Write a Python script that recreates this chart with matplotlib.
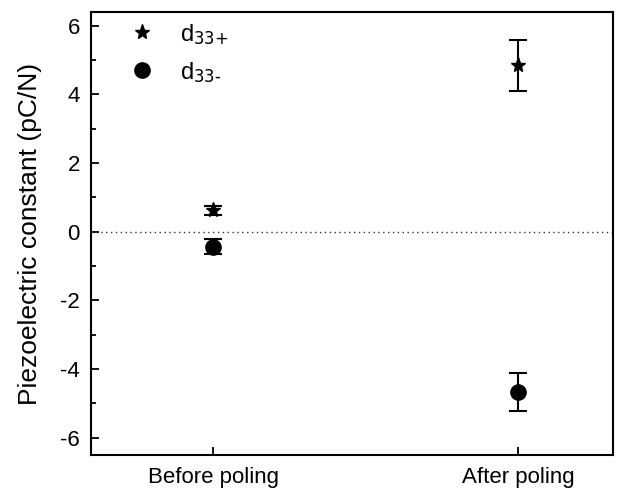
import matplotlib
matplotlib.use("Agg")
import matplotlib.pyplot as plt
import numpy as np

plt.rcParams.update({"font.family": ["Liberation Sans", "DejaVu Sans"],
                     "font.size": 16, "mathtext.default": "regular",
                     "axes.unicode_minus": False})

STATES = ["Before poling", "After poling"]
D33_PLUS = [0.62, 4.85]
D33_PLUS_ERR = [0.14, 0.74]
D33_MINUS = [-0.43, -4.67]
D33_MINUS_ERR = [0.22, 0.55]

x = np.arange(1, len(STATES) + 1)

fig = plt.figure(figsize=(6.3, 4.92), dpi=100)
ax = fig.add_axes([91 / 630, 37 / 492, 522 / 630, 443 / 492])

ax.axhline(0, ls=(0, (1, 2.5)), color="#333333", lw=1)
ax.errorbar(x, D33_PLUS, yerr=D33_PLUS_ERR, fmt="*", ms=11, color="black",
            ecolor="black", elinewidth=1.5, capsize=6.5, capthick=1.5,
            label=r"d$_{\text{33+}}$")
ax.errorbar(x, D33_MINUS, yerr=D33_MINUS_ERR, fmt="o", ms=11, color="black",
            ecolor="black", elinewidth=1.5, capsize=6.5, capthick=1.5,
            label=r"d$_{\text{33-}}$")

ax.set_xlim(0.6, 2.31)
ax.set_ylim(-6.5, 6.4)
ax.set_xticks(x)
ax.set_xticklabels(STATES)
ax.set_yticks(range(-6, 7, 2))
ax.set_yticks(range(-5, 7, 2), minor=True)
ax.tick_params(direction="in", length=6, width=1.3, labelsize=16)
ax.tick_params(which="minor", direction="in", length=3.5, width=1.3)
ax.tick_params(axis="x", pad=9)
ax.tick_params(axis="y", pad=8)
for s in ax.spines.values():
    s.set_linewidth(1.5)
ax.set_ylabel("Piezoelectric constant (pC/N)", fontsize=19, labelpad=13)

h, l = ax.get_legend_handles_labels()
h = [hh[0] for hh in h]
ax.legend(h, l, loc="upper left", frameon=False, fontsize=17,
          handletextpad=0.8, borderaxespad=0.2, labelspacing=0.55,
          handlelength=1.6, bbox_to_anchor=(0.034, 1.01))

fig.savefig("out.png", dpi=100)
